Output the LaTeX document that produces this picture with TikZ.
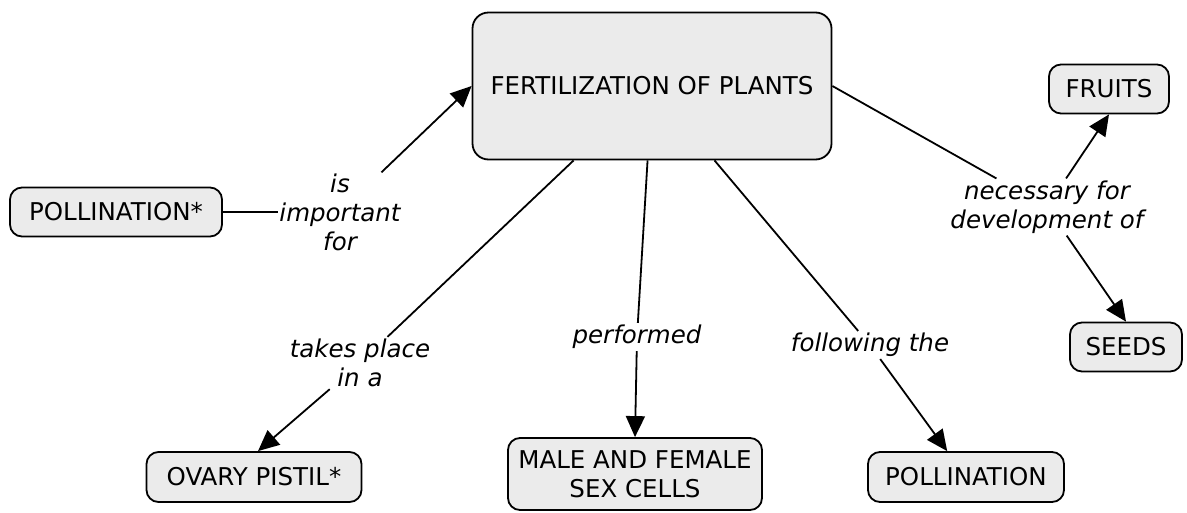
\documentclass[tikz,border=0pt]{standalone}
\usepackage{fontspec}
\setmainfont{DejaVu Sans}
\usetikzlibrary{arrows.meta}
\definecolor{boxfill}{RGB}{235,235,235}
\begin{document}
\begin{tikzpicture}[x=1pt,y=-1pt,
  concept/.style={draw=black,line width=1.8pt,fill=boxfill,rounded corners=12pt,align=center,inner sep=0pt,font=\fontsize{24.5}{29}\selectfont},
  linkphrase/.style={align=center,inner sep=2pt,font=\fontsize{24.5}{29}\selectfont\itshape},
  conn/.style={line width=1.8pt,draw=black},
  arr/.style={conn,-{Triangle[length=21pt,width=19pt]}}]
\useasboundingbox (0,0) rectangle (1187,512);
% concepts
\node[concept,minimum width=359pt,minimum height=147pt,rounded corners=16pt] (main) at (652,86) {FERTILIZATION OF PLANTS};
\node[concept,minimum width=212pt,minimum height=49pt] (poll1) at (116,212) {POLLINATION*};
\node[concept,minimum width=120pt,minimum height=49pt] (fruits) at (1109,89) {FRUITS};
\node[concept,minimum width=112pt,minimum height=49pt] (seeds) at (1126,347) {SEEDS};
\node[concept,minimum width=215pt,minimum height=50pt] (ovary) at (254,477) {OVARY PISTIL*};
\node[concept,minimum width=254pt,minimum height=72pt] (cells) at (635,474) {MALE AND FEMALE\\SEX CELLS};
\node[concept,minimum width=196pt,minimum height=50pt] (poll2) at (966,477) {POLLINATION};
% linking phrases
\node[linkphrase,inner sep=1pt] (lab1) at (340,212) {is\\important\\for};
\node[linkphrase] (lab2) at (360,363) {takes place\\in a};
\node[linkphrase] (lab3) at (637,337) {performed};
\node[linkphrase] (lab4) at (870,345) {following the};
\node[linkphrase] (lab5) at (1047,207) {necessary for\\development of};
% connectors
\draw[conn] (poll1.east) -- (lab1);
\draw[arr] (lab1) -- (main.west);
\draw[conn] (main) -- (lab2);
\draw[arr] (lab2) -- ([xshift=4pt]ovary.north);
\draw[conn] (main) -- (lab3);
\draw[arr] (lab3) -- (cells.north);
\draw[conn] (main) -- (lab4);
\draw[arr] (lab4) -- (poll2);
\draw[conn] (main.east) -- (lab5);
\draw[arr] (lab5) -- (fruits.south);
\draw[arr] (lab5) -- (seeds.north);
\end{tikzpicture}
\end{document}
